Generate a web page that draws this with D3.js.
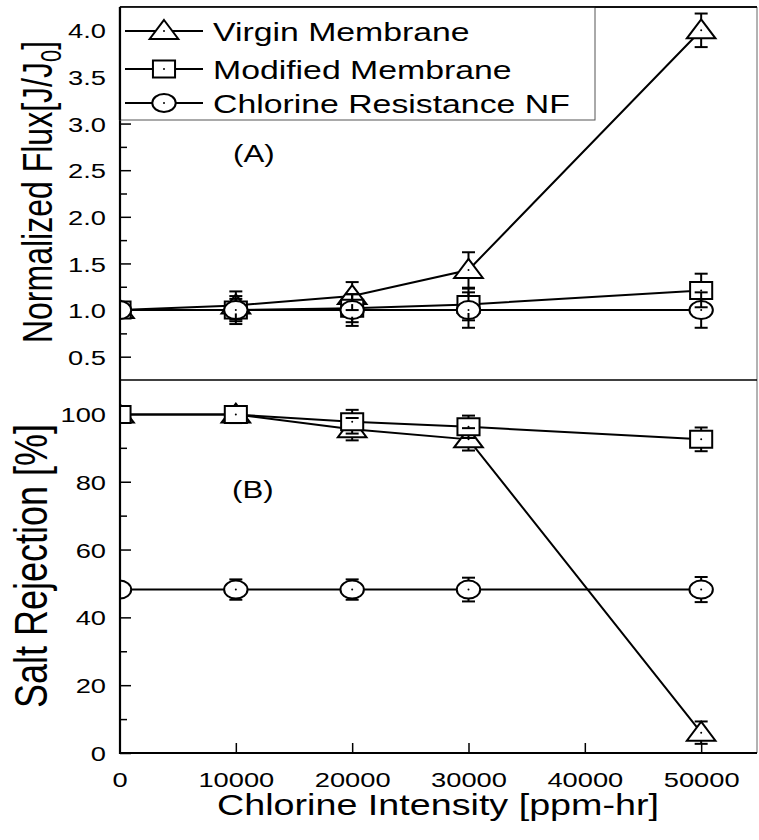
<!DOCTYPE html>
<html>
<head>
<meta charset="utf-8">
<script src="https://cdn.jsdelivr.net/npm/d3@7"></script>
<style>
  body { margin: 0; background: #fff; }
  svg { display: block; }
  text { font-family: "Liberation Sans", Arial, Helvetica, sans-serif; fill: #000; }
</style>
</head>
<body>
<svg id="chart" width="759" height="840"></svg>
<script>
// Chlorine exposure levels (ppm-hr)
const intensity = [0, 10000, 20000, 30000, 50000];
const seriesNames = ["Virgin Membrane", "Modified Membrane", "Chlorine Resistance NF"];
const seriesSymbols = ["triangle", "square", "circle"];

// (A) normalized flux J/J0 with error
const fluxVirgin      = [1.00, 1.05, 1.15, 1.43, 4.00];
const fluxVirginErr   = [0.03, 0.15, 0.15, 0.19, 0.18];
const fluxModified    = [1.00, 1.00, 1.02, 1.06, 1.21];
const fluxModifiedErr = [0.03, 0.12, 0.15, 0.17, 0.18];
const fluxNF          = [1.00, 1.00, 1.00, 1.00, 1.00];
const fluxNFErr       = [0.03, 0.15, 0.17, 0.19, 0.19];

// (B) salt rejection % with error
const rejVirgin      = [99.8, 99.8, 95.5, 92.5, 6.0];
const rejVirginErr   = [2.0, 2.5, 3.3, 3.3, 3.3];
const rejModified    = [99.8, 99.8, 97.7, 96.2, 92.5];
const rejModifiedErr = [2.0, 2.5, 3.5, 3.3, 3.5];
const rejNF          = [48.2, 48.2, 48.2, 48.2, 48.2];
const rejNFErr       = [2.0, 3.0, 3.0, 3.5, 3.7];

// Axis ticks
const xTicks = [0, 10000, 20000, 30000, 40000, 50000];
const fluxTicks = [0.5, 1.0, 1.5, 2.0, 2.5, 3.0, 3.5, 4.0];
const fluxMinorTicks = [0.75, 1.25, 1.75, 2.25, 2.75, 3.25, 3.75];
const rejTicks = [0, 20, 40, 60, 80, 100];
const rejMinorTicks = [10, 30, 50, 70, 90];

// The figure is laid out wider than tall: glyphs and symbols are stretched horizontally.
const SX = 1.3;

const svg = d3.select("#chart");
const plotLeft = 120, plotRight = 757, plotTop = 7, plotMid = 380, plotBottom = 753;

const x = d3.scaleLinear().domain([0, 54800]).range([119.5, plotRight]);
const yFlux = d3.scaleLinear().domain([0.25, 4.25]).range([plotMid, plotTop]);
const yRej = d3.scaleLinear().domain([0, 110]).range([plotBottom, plotMid]);

const defs = svg.append("defs");
defs.append("clipPath").attr("id", "clipTop").append("rect")
  .attr("x", plotLeft).attr("y", plotTop).attr("width", plotRight - plotLeft).attr("height", plotMid - plotTop);
defs.append("clipPath").attr("id", "clipBot").append("rect")
  .attr("x", plotLeft).attr("y", plotMid).attr("width", plotRight - plotLeft).attr("height", plotBottom - plotMid);

// Symbol outlines (unstretched units, centred on 0,0)
const symbolPath = {
  triangle: "M0,-11 L11,8 L-11,8 Z",
  square: "M-8.5,-8.5 H8.5 V8.5 H-8.5 Z",
  circle: "M-9,0 A9,9 0 1,0 9,0 A9,9 0 1,0 -9,0 Z"
};
const symbolHalfH = { triangle: [11, 8], square: [8.5, 8.5], circle: [9, 9] };

function drawSymbol(g, kind, cx, cy) {
  g.append("path")
    .attr("d", symbolPath[kind])
    .attr("transform", `translate(${cx},${cy}) scale(${SX},1)`)
    .attr("fill", "#fff").attr("stroke", "#000").attr("stroke-width", 2)
    .attr("vector-effect", "non-scaling-stroke");
  g.append("circle").attr("cx", cx).attr("cy", cy).attr("r", 1).attr("fill", "#000");
}

function stretchedText(g, tx, ty, str, size, anchor, rotate) {
  return g.append("text")
    .attr("transform", `translate(${tx},${ty}) scale(${SX},1)` + (rotate ? " rotate(-90)" : ""))
    .attr("text-anchor", anchor || "start")
    .attr("font-size", size)
    .text(str);
}

function drawPanel(yScale, series, clipId) {
  const g = svg.append("g").attr("clip-path", `url(#${clipId})`);
  const line = d3.line().x((d, i) => x(intensity[i])).y(d => yScale(d));
  // connecting lines
  series.forEach(s => {
    g.append("path").datum(s.values).attr("d", line)
      .attr("fill", "none").attr("stroke", "#000").attr("stroke-width", 2);
  });
  // symbols
  series.forEach(s => {
    s.values.forEach((v, i) => drawSymbol(g, s.symbol, x(intensity[i]), yScale(v)));
  });
  // error bars, drawn from the symbol edge outward
  series.forEach(s => {
    const [hUp, hDown] = symbolHalfH[s.symbol];
    s.values.forEach((v, i) => {
      const cx = x(intensity[i]), cy = yScale(v);
      const yHi = yScale(v + s.errors[i]), yLo = yScale(v - s.errors[i]);
      if (cy - yHi > hUp) {
        g.append("line").attr("x1", cx).attr("x2", cx).attr("y1", cy - hUp).attr("y2", yHi)
          .attr("stroke", "#000").attr("stroke-width", 2);
        g.append("line").attr("x1", cx - 6.5).attr("x2", cx + 6.5).attr("y1", yHi).attr("y2", yHi)
          .attr("stroke", "#000").attr("stroke-width", 2);
      }
      if (yLo - cy > hDown) {
        g.append("line").attr("x1", cx).attr("x2", cx).attr("y1", cy + hDown).attr("y2", yLo)
          .attr("stroke", "#000").attr("stroke-width", 2);
        g.append("line").attr("x1", cx - 6.5).attr("x2", cx + 6.5).attr("y1", yLo).attr("y2", yLo)
          .attr("stroke", "#000").attr("stroke-width", 2);
      }
    });
  });
}

// Inward-pointing tick axes
function yAxis(scale, major, minor, fmt) {
  const gMinor = svg.append("g").attr("transform", `translate(${plotLeft},0)`)
    .call(d3.axisLeft(scale).tickValues(minor).tickSize(-7).tickFormat(""));
  gMinor.select(".domain").remove();
  gMinor.selectAll("line").attr("stroke-width", 1.5);
  const gMajor = svg.append("g").attr("transform", `translate(${plotLeft},0)`)
    .call(d3.axisLeft(scale).tickValues(major).tickSize(-11).tickFormat(fmt));
  gMajor.select(".domain").remove();
  gMajor.selectAll("line").attr("stroke-width", 1.5);
  gMajor.selectAll("text")
    .attr("x", null).attr("dy", "0.36em")
    .attr("transform", `translate(-14,0) scale(${SX},1)`)
    .attr("font-size", 21).attr("font-family", null).attr("fill", "#000");
}

const fluxSeries = [
  { values: fluxVirgin, errors: fluxVirginErr, symbol: seriesSymbols[0] },
  { values: fluxModified, errors: fluxModifiedErr, symbol: seriesSymbols[1] },
  { values: fluxNF, errors: fluxNFErr, symbol: seriesSymbols[2] }
];
const rejSeries = [
  { values: rejVirgin, errors: rejVirginErr, symbol: seriesSymbols[0] },
  { values: rejModified, errors: rejModifiedErr, symbol: seriesSymbols[1] },
  { values: rejNF, errors: rejNFErr, symbol: seriesSymbols[2] }
];

yAxis(yFlux, fluxTicks, fluxMinorTicks, d3.format(".1f"));
yAxis(yRej, rejTicks, rejMinorTicks, d3.format("d"));

// bottom x axis
const gx = svg.append("g").attr("transform", `translate(0,${plotBottom})`)
  .call(d3.axisBottom(x).tickValues(xTicks).tickSize(-10).tickFormat(d3.format("d")));
gx.select(".domain").remove();
gx.selectAll("line").attr("stroke-width", 1.5);
gx.selectAll(".tick").filter(d => d === 0).select("line").remove();
gx.selectAll("text")
  .attr("y", null).attr("dy", null)
  .attr("transform", `translate(0,34) scale(${SX},1)`)
  .attr("font-size", 21).attr("font-family", null).attr("fill", "#000");

drawPanel(yFlux, fluxSeries, "clipTop");
drawPanel(yRej, rejSeries, "clipBot");

// frame
svg.append("line").attr("x1", plotLeft).attr("x2", plotRight).attr("y1", plotTop).attr("y2", plotTop)
  .attr("stroke", "#000").attr("stroke-width", 1.5);
svg.append("line").attr("x1", plotRight).attr("x2", plotRight).attr("y1", plotTop).attr("y2", plotBottom)
  .attr("stroke", "#666").attr("stroke-width", 1);
svg.append("line").attr("x1", plotLeft).attr("x2", plotRight).attr("y1", plotMid).attr("y2", plotMid)
  .attr("stroke", "#000").attr("stroke-width", 1.5);
svg.append("line").attr("x1", plotLeft).attr("x2", plotLeft).attr("y1", plotTop).attr("y2", plotBottom + 1)
  .attr("stroke", "#000").attr("stroke-width", 2.2);
svg.append("line").attr("x1", plotLeft - 1).attr("x2", plotRight).attr("y1", plotBottom).attr("y2", plotBottom)
  .attr("stroke", "#000").attr("stroke-width", 2.2);

// legend
const lg = svg.append("g");
lg.append("rect").attr("x", plotLeft).attr("y", plotTop).attr("width", 595 - plotLeft).attr("height", 120 - plotTop)
  .attr("fill", "#fff").attr("stroke", "#555").attr("stroke-width", 1);
lg.append("line").attr("x1", plotLeft).attr("x2", plotRight).attr("y1", plotTop).attr("y2", plotTop)
  .attr("stroke", "#000").attr("stroke-width", 1.5);
lg.append("line").attr("x1", plotLeft).attr("x2", plotLeft).attr("y1", plotTop).attr("y2", 120)
  .attr("stroke", "#000").attr("stroke-width", 2.2);
const legendRows = [31, 69, 103];
seriesNames.forEach((name, i) => {
  const ry = legendRows[i];
  lg.append("line").attr("x1", 125).attr("x2", 203).attr("y1", ry).attr("y2", ry)
    .attr("stroke", "#000").attr("stroke-width", 2);
  drawSymbol(lg, seriesSymbols[i], 164, ry);
  stretchedText(lg, 213, ry + 9.5, name, 26, "start");
});

// panel labels
stretchedText(svg, 233, 162, "(A)", 24, "start");
stretchedText(svg, 232, 498, "(B)", 24, "start");

// axis titles
stretchedText(svg, 438, 815, "Chlorine Intensity [ppm-hr]", 29, "middle");
const ft = stretchedText(svg, 52, 192, "", 32, "middle", true);
ft.append("tspan").text("Normalized Flux[J/J");
ft.append("tspan").attr("font-size", 22).attr("dy", 7).text("0");
ft.append("tspan").attr("dy", -7).text("]");
stretchedText(svg, 47, 566, "Salt Rejection [%]", 36, "middle", true);
</script>
</body>
</html>
